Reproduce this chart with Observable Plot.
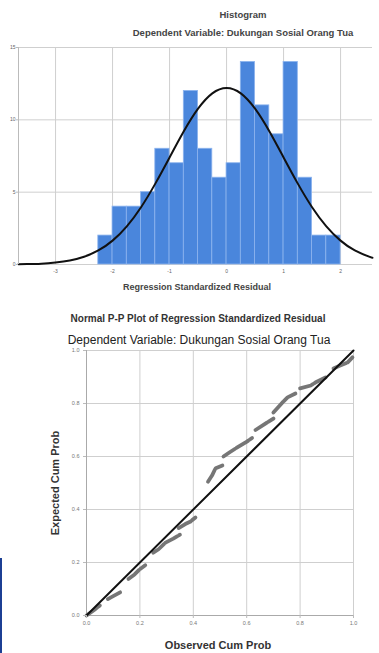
<!DOCTYPE html>
<html>
<head>
<meta charset="utf-8">
<script src="https://cdn.jsdelivr.net/npm/d3@7"></script>
<script src="https://cdn.jsdelivr.net/npm/@observablehq/plot@0.6"></script>
<style>
  html, body { margin: 0; padding: 0; background: #fff; }
  #wrap { position: relative; width: 379px; height: 653px; overflow: hidden; font-family: "Liberation Sans", Arial, sans-serif; color: #333; }
  .t { position: absolute; transform: translate(-50%, -50%); white-space: nowrap; }
  .abs { position: absolute; left: 0; }
</style>
</head>
<body>
<div id="wrap">
  <div id="hist" class="abs" style="top:0"></div>
  <div id="pp" class="abs" style="top:300px"></div>
  <div class="t" style="left:243px;top:14px;font-size:9.5px;font-weight:600;color:#444;">Histogram</div>
  <div class="t" style="left:243px;top:32px;font-size:9.5px;font-weight:600;color:#444;">Dependent Variable: Dukungan Sosial Orang Tua</div>
  <div class="t" style="left:197px;top:287px;font-size:9px;font-weight:600;color:#444;">Regression Standardized Residual</div>
  <div class="t" style="left:198px;top:318px;font-size:10px;font-weight:700;color:#333;">Normal P-P Plot of Regression Standardized Residual</div>
  <div class="t" style="left:199px;top:340px;font-size:12px;font-weight:400;color:#222;">Dependent Variable: Dukungan Sosial Orang Tua</div>
  <div class="t" style="left:55px;top:483px;font-size:11px;font-weight:700;color:#333;transform:translate(-50%,-50%) rotate(-90deg);">Expected Cum Prob</div>
  <div class="t" style="left:218px;top:645px;font-size:11px;font-weight:700;color:#333;">Observed Cum Prob</div>
  <div style="position:absolute;left:0;top:558px;width:2px;height:95px;background:#1c3f94;"></div>
</div>
<script>
// ---- Histogram data ----
const binEdges = [-2.25, -2.0, -1.75, -1.5, -1.25, -1.0, -0.75, -0.5, -0.25, 0, 0.25, 0.5, 0.75, 1.0, 1.25, 1.5, 1.75, 2.0];
const binCounts = [2, 4, 4, 5, 8, 7, 12, 8, 6, 7, 14, 11, 9, 14, 6, 2, 2];
const histXTicks = [-3, -2, -1, 0, 1, 2];
const histYTicks = [0, 5, 10, 15];
// normal curve
const curveX = [-3.65, -3.5, -3.25, -3, -2.75, -2.5, -2.25, -2, -1.75, -1.5, -1.25, -1, -0.75, -0.5, -0.25, 0, 0.25, 0.5, 0.75, 1, 1.25, 1.5, 1.75, 2, 2.25, 2.5, 2.56];
const curveY = [0.02, 0.03, 0.06, 0.14, 0.28, 0.54, 0.97, 1.65, 2.64, 3.96, 5.59, 7.40, 9.21, 10.77, 11.83, 12.2, 11.83, 10.77, 9.21, 7.40, 5.59, 3.96, 2.64, 1.65, 0.97, 0.54, 0.46];

// ---- P-P plot data ----
const ppObserved = [0, 0.03, 0.05, 0.08, 0.10, 0.127, 0.157, 0.18, 0.20, 0.22, 0.25, 0.27, 0.296, 0.325, 0.35, 0.345, 0.37, 0.39, 0.408, 0.455, 0.47, 0.483, 0.509, 0.513, 0.535, 0.558, 0.596, 0.62, 0.633, 0.67, 0.70, 0.70, 0.734, 0.753, 0.783, 0.80, 0.84, 0.857, 0.895, 0.925, 0.95, 0.978, 0.996];
const ppExpected = [0, 0.022, 0.038, 0.062, 0.073, 0.088, 0.138, 0.155, 0.175, 0.19, 0.237, 0.25, 0.275, 0.29, 0.305, 0.33, 0.345, 0.355, 0.37, 0.505, 0.528, 0.555, 0.566, 0.60, 0.615, 0.63, 0.653, 0.67, 0.70, 0.724, 0.743, 0.766, 0.804, 0.823, 0.838, 0.857, 0.868, 0.879, 0.898, 0.932, 0.943, 0.955, 0.974];
const ppGroup = [1, 1, 1, 2, 2, 2, 3, 3, 3, 3, 4, 4, 4, 4, 4, 5, 5, 5, 5, 6, 6, 6, 6, 7, 7, 7, 7, 7, 8, 8, 8, 9, 9, 9, 9, 10, 10, 10, 10, 11, 11, 11, 11];
const ppTicks = [0, 0.2, 0.4, 0.6, 0.8, 1.0];
const refLine = [0, 1];

const FONT = '"Liberation Sans", Arial, sans-serif';
const GRID = "#cfcfcf";

const bins = binCounts.map((c, i) => ({x1: binEdges[i], x2: binEdges[i + 1], count: c}));
const curve = curveX.map((x, i) => ({x, y: curveY[i]}));

const hist = Plot.plot({
  width: 379, height: 300,
  marginLeft: 18, marginRight: 7, marginTop: 47, marginBottom: 36,
  style: {fontFamily: FONT, fontSize: "5px", color: "#666", background: "transparent"},
  x: {domain: [-3.65, 2.56], label: null},
  y: {domain: [0, 15], label: null},
  marks: [
    Plot.gridX(histXTicks, {stroke: GRID, strokeOpacity: 1}),
    Plot.gridY(histYTicks, {stroke: GRID, strokeOpacity: 1}),
    Plot.rectY(bins, {x1: "x1", x2: "x2", y: "count", fill: "#4a86dc", stroke: "#8db4ee", strokeWidth: 0.8}),
    Plot.line(curve, {x: "x", y: "y", stroke: "#111", strokeWidth: 2, curve: "natural"}),
    Plot.ruleX([-3.65], {stroke: "#bbb"}),
    Plot.axisX(histXTicks, {tickSize: 0, tickPadding: 5, tickFormat: d => String(d), fontSize: 5, fill: "#666"}),
    Plot.axisY(histYTicks, {tickSize: 2, tickPadding: 1, tickFormat: d => String(d), fontSize: 5, fill: "#666", stroke: "#bbb"})
  ]
});
document.getElementById("hist").appendChild(hist);

const pts = ppObserved.map((o, i) => ({o, e: ppExpected[i], g: ppGroup[i]}));
const ref = refLine.map(v => ({v}));

const pp = Plot.plot({
  width: 379, height: 353,
  marginLeft: 86, marginRight: 26, marginTop: 50, marginBottom: 38,
  style: {fontFamily: FONT, fontSize: "5px", color: "#666", background: "transparent"},
  x: {domain: [0, 1], label: null},
  y: {domain: [0, 1], label: null},
  marks: [
    Plot.gridX(ppTicks, {stroke: GRID, strokeOpacity: 1}),
    Plot.gridY(ppTicks, {stroke: GRID, strokeOpacity: 1}),
    Plot.ruleX([0], {stroke: "#aaa"}),
    Plot.ruleY([0], {stroke: "#aaa"}),
    Plot.line(pts, {x: "o", y: "e", z: "g", stroke: "#767676", strokeWidth: 3.8, strokeLinecap: "round", strokeDasharray: "14,1.5"}),
    Plot.line(ref, {x: "v", y: "v", stroke: "#111", strokeWidth: 2}),
    Plot.axisX(ppTicks, {tickSize: 3, tickPadding: 3, tickFormat: d3.format(".1f"), fontSize: 5.5, fill: "#777", stroke: "#bbb"}),
    Plot.axisY(ppTicks, {tickSize: 3, tickPadding: 4, tickFormat: d3.format(".1f"), fontSize: 5.5, fill: "#777", stroke: "#bbb"})
  ]
});
document.getElementById("pp").appendChild(pp);
</script>
</body>
</html>
